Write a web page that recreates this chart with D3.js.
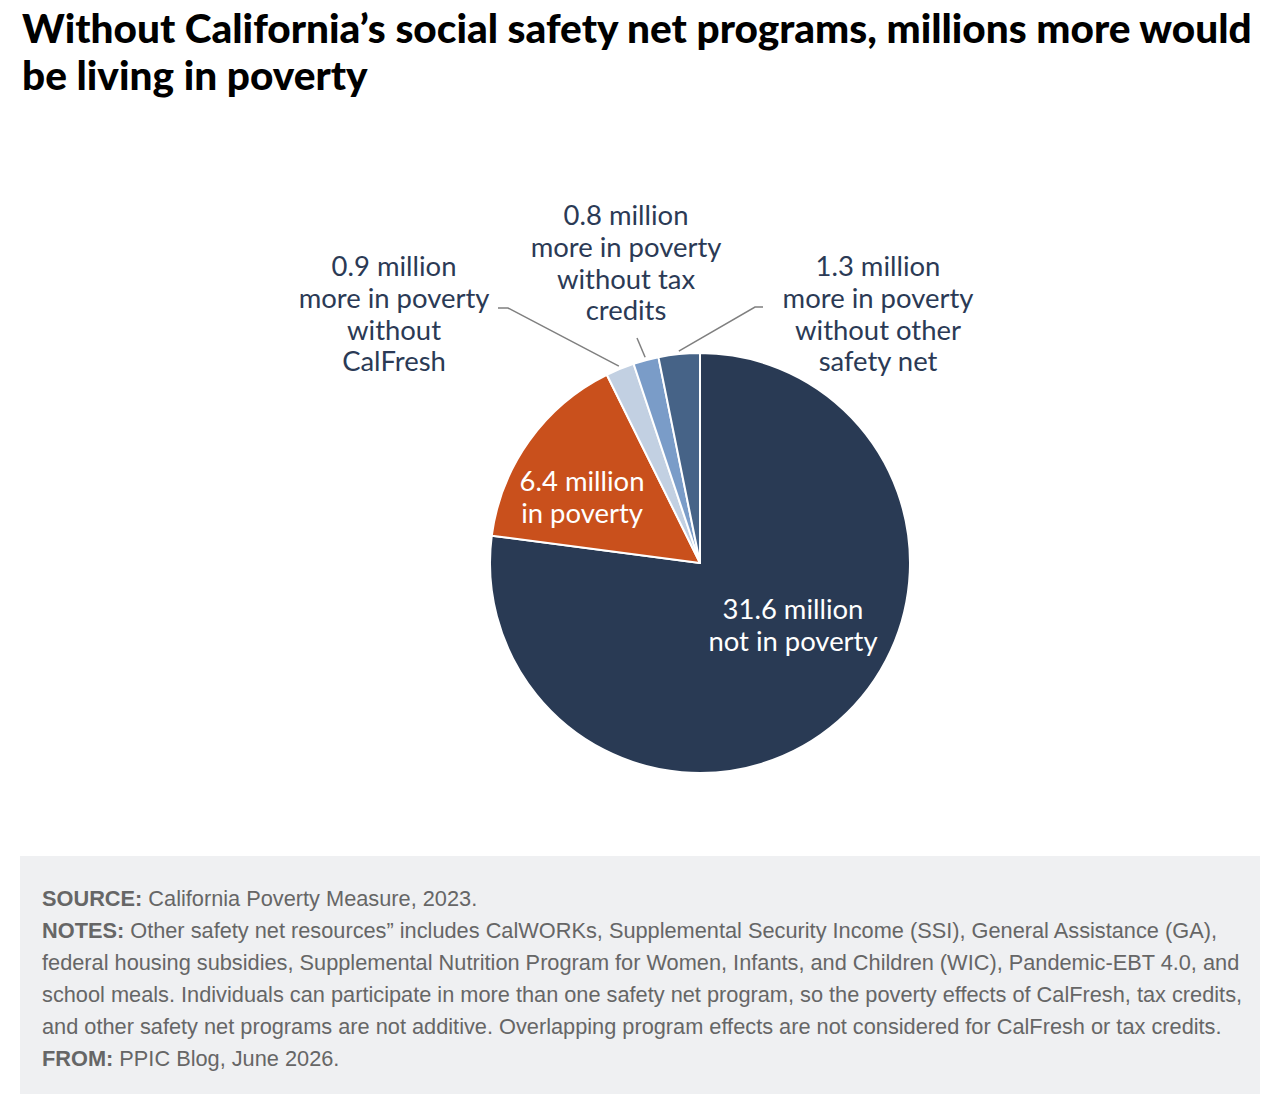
<!DOCTYPE html>
<html lang="en">
<head>
    <meta charset="UTF-8">
    <title>California safety net pie</title>
    <script src="https://d3js.org/d3.v7.min.js"></script>
    <style>
        body { margin: 0; background: #fff; }
    </style>
</head>
<body>
<svg id="chart"></svg>
<script>
    // slice order is clockwise from 12 o'clock
    categories = ["not in poverty", "in poverty", "CalFresh", "tax credits", "other safety net"];
    values = [31.6, 6.4, 0.9, 0.8, 1.3];
    sliceLabels = [
        ["31.6 million", "not in poverty"],
        ["6.4 million", "in poverty"],
        ["0.9 million", "more in poverty", "without", "CalFresh"],
        ["0.8 million", "more in poverty", "without tax", "credits"],
        ["1.3 million", "more in poverty", "without other", "safety net"]
    ];
    colors = ["#293a54", "#c9501c", "#c2d0e2", "#7a9cc8", "#466387"];

    titleLines = [
        "Without California\u2019s social safety net programs, millions more would",
        "be living in poverty"
    ];
    footLines = [
        ["SOURCE:", " California Poverty Measure, 2023."],
        ["NOTES:", " Other safety net resources\u201d includes CalWORKs, Supplemental Security Income (SSI), General Assistance (GA),"],
        ["", "federal housing subsidies, Supplemental Nutrition Program for Women, Infants, and Children (WIC), Pandemic-EBT 4.0, and"],
        ["", "school meals. Individuals can participate in more than one safety net program, so the poverty effects of CalFresh, tax credits,"],
        ["", "and other safety net programs are not additive. Overlapping program effects are not considered for CalFresh or tax credits."],
        ["FROM:", " PPIC Blog, June 2026."]
    ];

    width = 1280;
    height = 1104;
    cx = 700;
    cy = 563;
    radius = 210;

    // where the text sits relative to the pie centre, and the elbow of each leader line
    labelLayout = [
        {inside: true, x: 93, y: 56},
        {inside: true, x: -118, y: -72},
        {x: -306, y: -287, elbow: [-192, -255], end: [-202, -255]},
        {x: -74, y: -338, elbow: [-63, -225]},
        {x: 178, y: -287, elbow: [55, -256], end: [63, -256]}
    ];

    svg = d3.select("#chart")
        .attr("width", width)
        .attr("height", height);

    // title, auto fitted to the width it takes in the original
    title = svg.append("g");
    title.selectAll("text")
        .data(titleLines)
        .join("text")
        .attr("x", 22)
        .attr("y", (d, i) => 43 + i * 47)
        .style("font-family", "Lato, 'Open Sans', sans-serif")
        .style("font-weight", 900)
        .style("font-size", "34px")
        .attr("fill", "#000")
        .text(d => d);
    let firstLen = title.select("text").node().getComputedTextLength();
    title.selectAll("text").style("font-size", (34 * 1230 / firstLen) + "px");

    pie = d3.pie().sort(null).value(d => d)
        .startAngle(0).endAngle(2 * Math.PI);
    arcs = pie(values);

    arc = d3.arc().innerRadius(0).outerRadius(radius);
    edgeArc = d3.arc().innerRadius(radius + 3).outerRadius(radius + 3);

    chart = svg.append("g")
        .attr("transform", `translate(${cx},${cy})`);

    chart.selectAll("path.slice")
        .data(arcs)
        .join("path")
        .attr("class", "slice")
        .attr("d", arc)
        .attr("fill", (d, i) => colors[i])
        .attr("stroke", "#fff")
        .attr("stroke-width", 2)
        .attr("stroke-linejoin", "round");

    // leader lines for the small slices
    lineGen = d3.line();
    chart.selectAll("path.leader")
        .data(arcs.filter((d, i) => !labelLayout[i].inside))
        .join("path")
        .attr("class", "leader")
        .attr("fill", "none")
        .attr("stroke", "#7f7f7f")
        .attr("stroke-width", 1.5)
        .attr("d", d => {
            let lay = labelLayout[d.index];
            let pts = [edgeArc.centroid(d), lay.elbow];
            if (lay.end) pts.push(lay.end);
            return lineGen(pts);
        });

    labels = chart.selectAll("text.label")
        .data(arcs)
        .join("text")
        .attr("class", "label")
        .attr("text-anchor", "middle")
        .style("font-family", "Lato, 'Open Sans', sans-serif")
        .style("font-size", "24px")
        .attr("fill", (d, i) => labelLayout[i].inside ? "#fff" : "#2b3a55");

    labels.selectAll("tspan")
        .data(d => sliceLabels[d.index].map(t => ({t: t, i: d.index})))
        .join("tspan")
        .attr("x", d => labelLayout[d.i].x)
        .attr("y", (d, j) => labelLayout[d.i].y + j * 31.8)
        .text(d => d.t);

    // match the label width of "0.8 million" in the original (about 125px)
    let probe = labels.filter(d => d.index === 3).select("tspan").node().getComputedTextLength();
    labels.style("font-size", (24 * 125 / probe) + "px");

    // footer box
    svg.append("rect")
        .attr("x", 20)
        .attr("y", 856)
        .attr("width", 1240)
        .attr("height", 238)
        .attr("fill", "#eff0f2");

    foot = svg.append("g")
        .style("font-family", "'Liberation Sans', Arial, sans-serif")
        .style("font-size", "19.5px")
        .attr("fill", "#666");

    footText = foot.selectAll("text")
        .data(footLines)
        .join("text")
        .attr("x", 42)
        .attr("y", (d, i) => 906 + i * 32);
    footText.append("tspan")
        .style("font-weight", "bold")
        .text(d => d[0]);
    footText.append("tspan")
        .text(d => d[1]);

    // fit the long notes line to the width it has in the original (42 to 1218)
    let footLen = footText.filter((d, i) => i === 1).node().getComputedTextLength();
    foot.style("font-size", (19.5 * 1176 / footLen) + "px");
</script>
</body>
</html>
